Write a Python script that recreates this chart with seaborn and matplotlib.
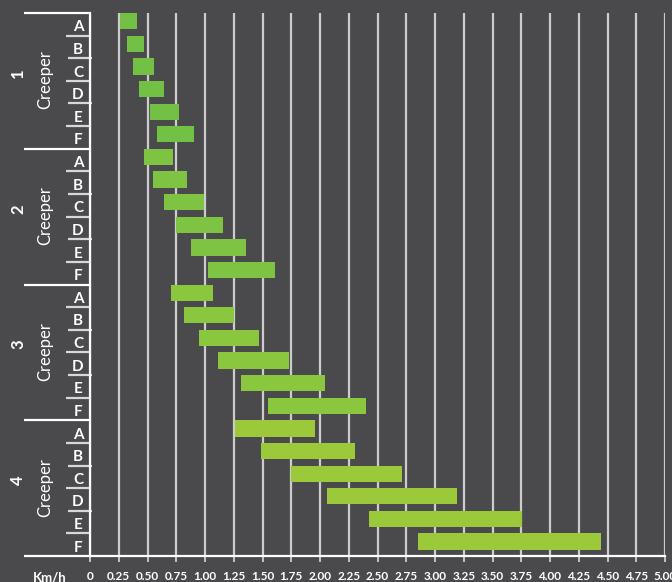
import matplotlib
matplotlib.use("Agg")
import matplotlib.pyplot as plt
import matplotlib.transforms as mtransforms
import seaborn as sns
import pandas as pd

# ---- data ----
groups = ["1", "2", "3", "4"]
letters = ["A", "B", "C", "D", "E", "F"]
starts1 = [0.26, 0.32, 0.37, 0.43, 0.52, 0.58]
ends1 = [0.41, 0.47, 0.56, 0.64, 0.77, 0.90]
starts2 = [0.47, 0.55, 0.64, 0.75, 0.88, 1.03]
ends2 = [0.72, 0.84, 0.99, 1.16, 1.36, 1.61]
starts3 = [0.70, 0.82, 0.95, 1.11, 1.31, 1.55]
ends3 = [1.07, 1.25, 1.47, 1.73, 2.04, 2.40]
starts4 = [1.26, 1.49, 1.75, 2.06, 2.43, 2.85]
ends4 = [1.96, 2.30, 2.71, 3.19, 3.76, 4.44]
tick_values = [i * 0.25 for i in range(21)]
tick_labels = ["0"] + [f"{v:.2f}" for v in tick_values[1:]]
group_label = "Creeper"
x_unit = "Km/h"
colors = ["#72c044", "#7ec342", "#8bc63f", "#9bc93a"]

all_starts = [starts1, starts2, starts3, starts4]
all_ends = [ends1, ends2, ends3, ends4]

rows = []
for g, s_list, e_list in zip(groups, all_starts, all_ends):
    for L, s, e in zip(letters, s_list, e_list):
        rows.append({"group": g, "letter": L, "row": f"{g}{L}", "start": s, "span": e - s})
df = pd.DataFrame(rows)
order = list(df["row"])

BG = "#4a4a4c"
sns.set_style("dark", rc={"axes.facecolor": BG, "figure.facecolor": BG})
plt.rcParams["font.family"] = ["Lato", "DejaVu Sans"]

W, H = 672, 582
fig = plt.figure(figsize=(W / 100, H / 100), dpi=100)
ax = fig.add_axes([90 / W, (H - 556) / H, 575 / W, 543 / H])

bar_h = 0.72
for g, col in zip(groups, colors):
    sub = df[df["group"] == g]
    sns.barplot(data=sub, y="row", x="span", order=order, orient="h",
                left=sub["start"].values, color=col, saturation=1,
                width=bar_h, ax=ax, errorbar=None, linewidth=0)

off = bar_h / 2
ax.set_ylim(len(order) - off, -off)
ax.set_xlim(0, 5.0)
ax.set_xticks(tick_values)
ax.set_xticklabels(tick_labels)
ax.set_xlabel("")
ax.set_ylabel("")
ax.tick_params(axis="y", left=False, labelleft=False)
ax.tick_params(axis="x", bottom=True, length=4.5, width=1.2, color="#d8d8d8",
               labelcolor="white", labelsize=8.5, pad=6.5)
for lab in ax.get_xticklabels():
    lab.set_fontweight("bold")
ax.grid(axis="x", color="#cccccc", linewidth=1.6, zorder=0)
ax.grid(axis="y", visible=False)
ax.set_axisbelow(True)
for sp in ["top", "right"]:
    ax.spines[sp].set_visible(False)
ax.spines["left"].set_color("white")
ax.spines["left"].set_linewidth(1.6)
ax.spines["bottom"].set_color("white")
ax.spines["bottom"].set_linewidth(1.6)

tr = mtransforms.blended_transform_factory(fig.transFigure, ax.transData)
n = len(order)
for i in range(n + 1):
    y = i - off
    if i % 6 == 0:
        ax.plot([24 / W, 90 / W], [y, y], color="white", lw=1.6, transform=tr,
                clip_on=False, solid_capstyle="butt")
    else:
        x0, x1 = (66 / W, 90 / W) if i % 2 else (68 / W, 92 / W)
        ax.plot([x0, x1], [y, y], color="#d8d8d8", lw=1.6, transform=tr,
                clip_on=False, solid_capstyle="butt")

for i, r in enumerate(rows):
    ax.text(78 / W, i + 0.27, r["letter"], transform=tr, ha="center", va="center",
            color="white", fontsize=11, fontweight="bold")

for gi, g in enumerate(groups):
    yc = gi * 6 + 2.6
    ax.text(45 / W, yc, group_label, transform=tr, ha="center", va="center",
            rotation=90, color="white", fontsize=12)
    ax.text(18 / W, yc - 0.3, g, transform=tr, ha="center", va="center",
            rotation=90, color="white", fontsize=12, fontweight="bold")

fig.text(50 / W, 1 - 577 / H, x_unit, ha="center", va="center", color="white",
         fontsize=9.5, fontweight="bold")

fig.savefig("out.png", dpi=100, facecolor=BG)
